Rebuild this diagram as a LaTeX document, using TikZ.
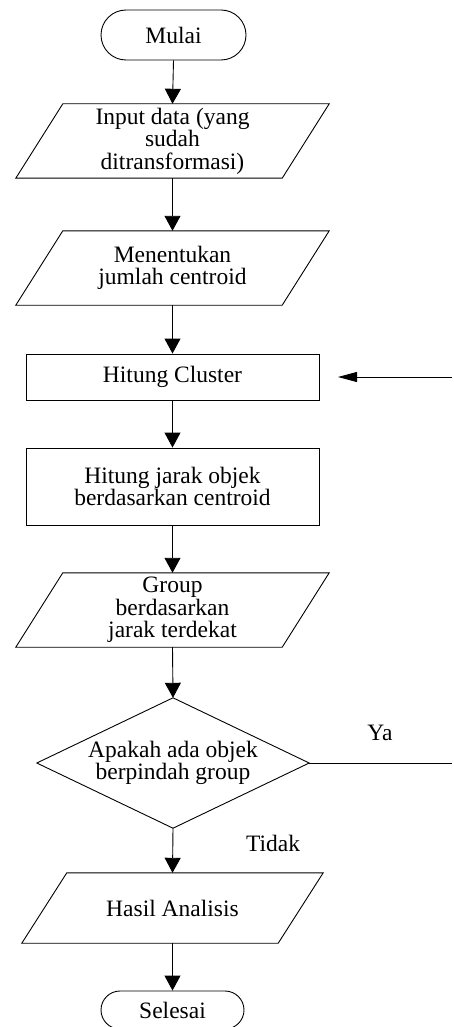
\documentclass[tikz,border=0pt]{standalone}
\usepackage{fontspec}
\setmainfont{Liberation Serif}
\usetikzlibrary{arrows.meta}
\begin{document}
\begin{tikzpicture}[x=1pt,y=1pt,
  txt/.style={font=\fontsize{23.5}{22.5}\selectfont, align=center, inner sep=0pt},
  box/.style={txt, draw, line width=0.9pt, minimum width=293pt},
  term/.style={txt, draw, line width=0.9pt, rounded corners=25pt, minimum width=145pt, minimum height=50pt},
  ghost/.style={txt, minimum width=313pt},
  shp/.style={line width=0.9pt},
  flow/.style={line width=0.9pt, -{Triangle[width=16pt,length=15pt]}},
  back/.style={line width=0.9pt, -{Triangle[width=10pt,length=19pt]}},
  lbl/.style={font=\fontsize{23.5}{22.5}\selectfont, inner sep=0pt}]
\clip (0,0) rectangle (454,-1027);
\fill[white] (0,0) rectangle (454,-1027);

\node[term] (mulai) at (173.5,-35) {Mulai};
\node[ghost, minimum height=74pt] (input) at (172.5,-141) {Input data (yang\\sudah\\ditransformasi)};
\node[ghost, minimum height=74pt] (ment) at (172.5,-268) {Menentukan\\jumlah centroid};
\node[box, minimum height=46pt] (hc) at (172.5,-377) {Hitung Cluster};
\node[box, minimum height=77pt] (hj) at (172.5,-486.5) {Hitung jarak objek\\berdasarkan centroid};
\node[ghost, minimum height=74pt] (grp) at (172.5,-610) {Group\\berdasarkan\\jarak terdekat};
\node[txt, minimum width=272pt, minimum height=130pt] (dec) at (173,-763) {Apakah ada objek\\berpindah group};
\node[txt, minimum width=301pt, minimum height=70pt] (hasil) at (172.5,-908) {Hasil Analisis};
\node[term, minimum width=143pt, minimum height=38pt, rounded corners=19pt] (sel) at (172.5,-1010) {Selesai};

% parallelograms
\foreach \n in {input,ment,grp}{
  \draw[shp] ([xshift=47pt]\n.north west) -- (\n.north east) -- ([xshift=-47pt]\n.south east) -- (\n.south west) -- cycle;
}
\draw[shp] ([xshift=45pt]hasil.north west) -- (hasil.north east) -- ([xshift=-45pt]hasil.south east) -- (hasil.south west) -- cycle;
% diamond
\draw[shp] (dec.north) -- (dec.east) -- (dec.south) -- (dec.west) -- cycle;

\coordinate (yaend) at (452,-763);
\coordinate (backstart) at (452,-377);
\coordinate (backend) at (338,-377);

\draw[flow] (mulai.south) -- (input.north);
\draw[flow] (input.south) -- (ment.north);
\draw[flow] (ment.south) -- (hc.north);
\draw[flow] (hc.south) -- (hj.north);
\draw[flow] (hj.south) -- (grp.north);
\draw[flow] (grp.south) -- (dec.north);
\draw[flow] (dec.south) -- (hasil.north);
\draw[flow] (hasil.south) -- (sel.north);
\draw[shp] (dec.east) -- (yaend);
\draw[back] (backstart) -- (backend);

\node[lbl] (ya) at (380,-733) {Ya};
\node[lbl] (tidak) at (273,-843) {Tidak};
\end{tikzpicture}
\end{document}
